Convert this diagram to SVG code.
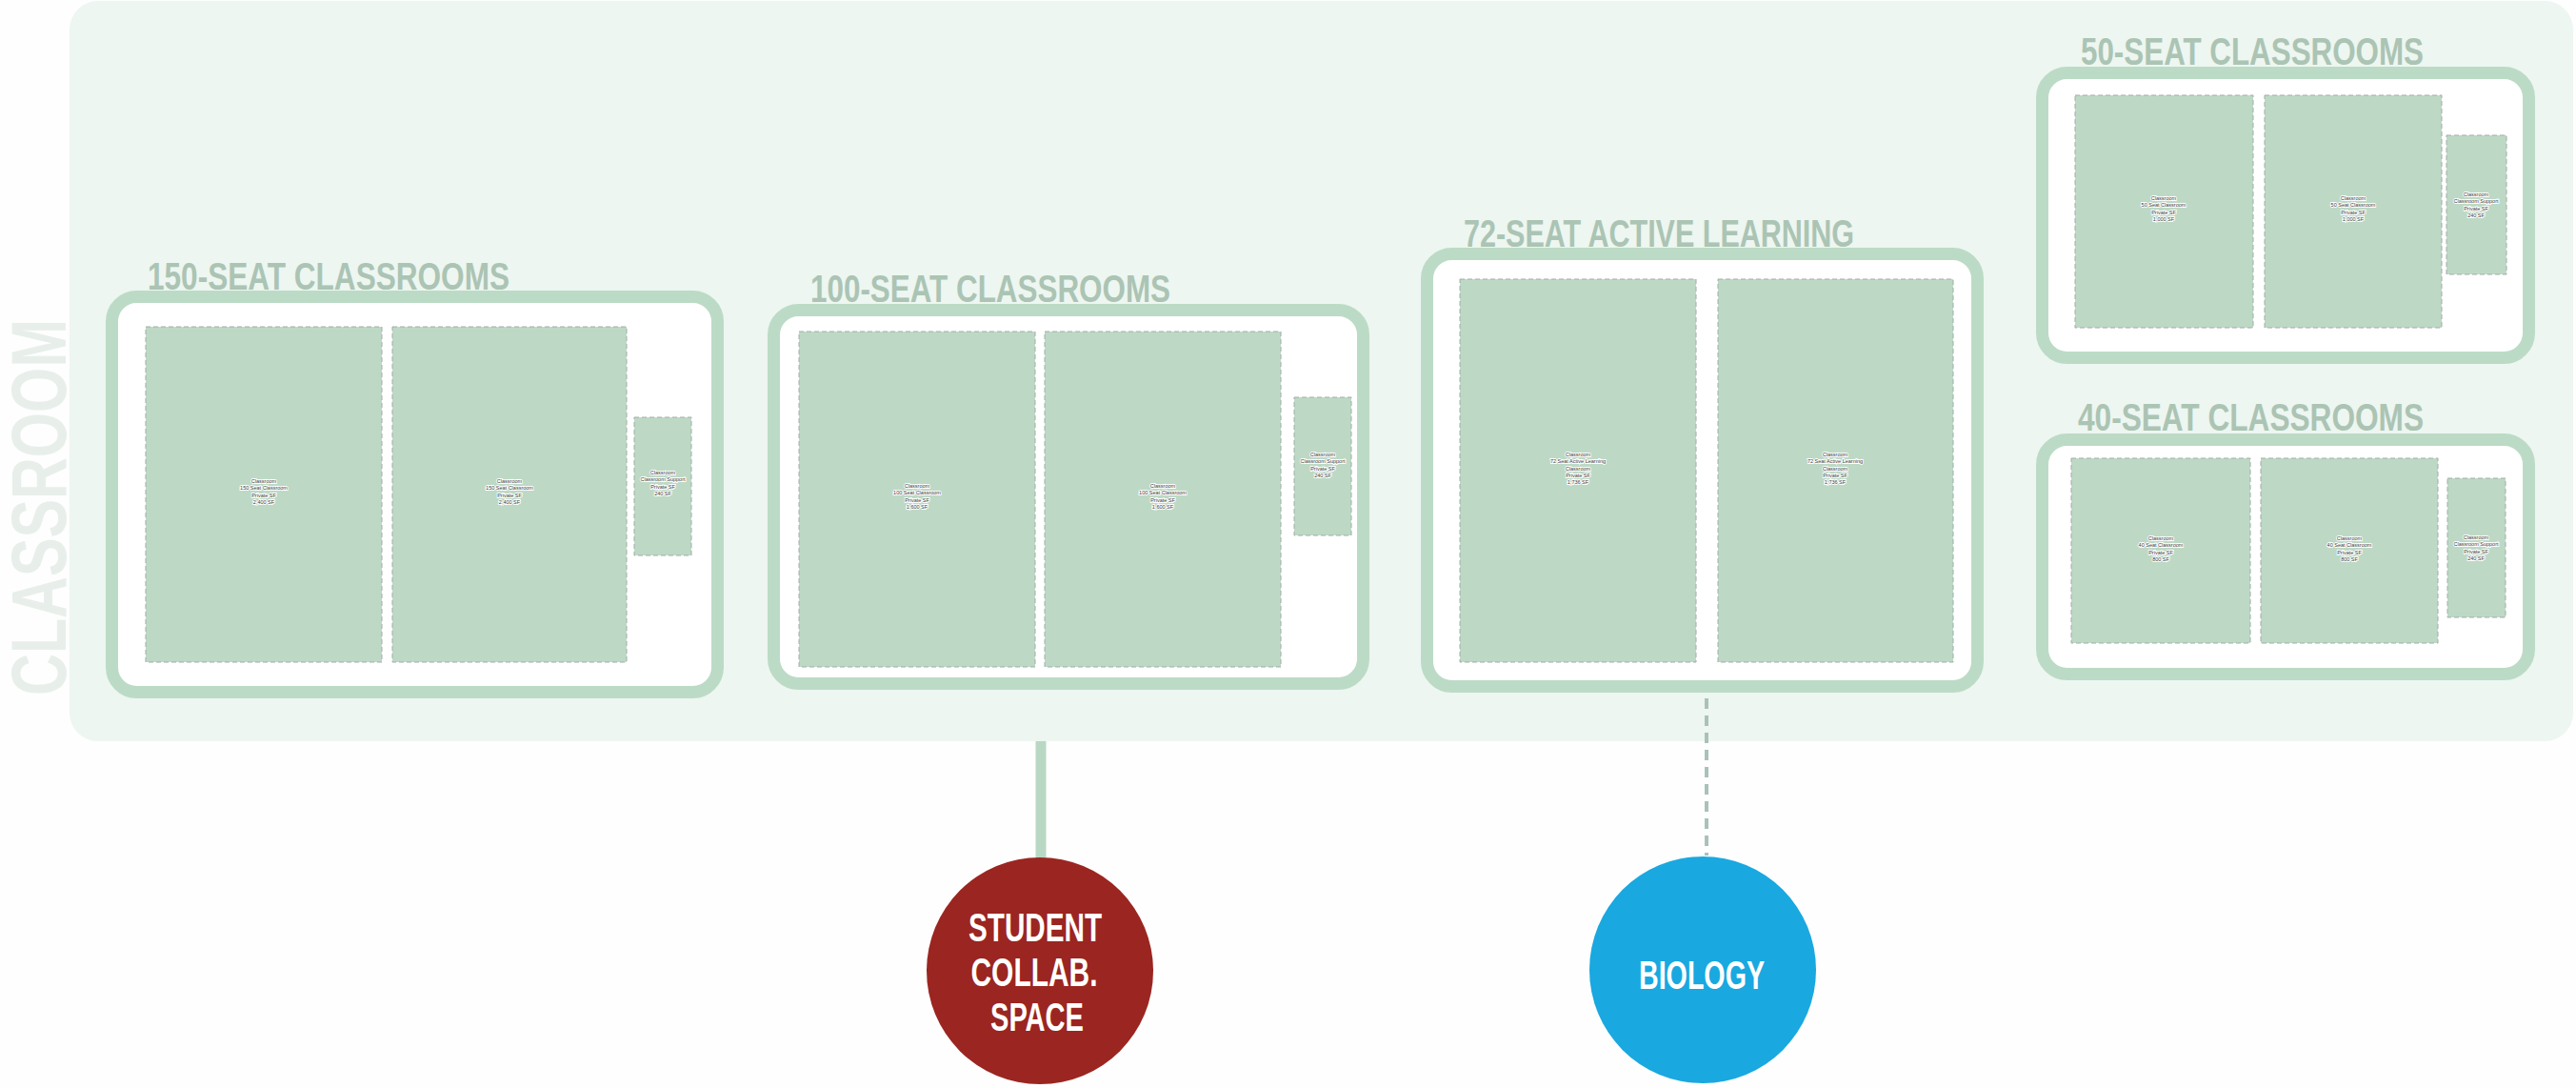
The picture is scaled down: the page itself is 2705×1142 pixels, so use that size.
<svg xmlns="http://www.w3.org/2000/svg" width="2705" height="1142" viewBox="0 0 2705 1142">
<style>
.bg{fill:#fdfefd}
.panel{fill:#edf6f0}
.box{fill:#ffffff;stroke:#bcdbc6;stroke-width:13}
.room{fill:#bdd9c5;stroke:#a3aca7;stroke-width:1;stroke-dasharray:5 3}
.title{font-family:"Liberation Sans",Arial,sans-serif;font-weight:700;font-size:41px;fill:#abc4b4}
.side{font-family:"Liberation Sans",Arial,sans-serif;font-weight:700;font-size:82px;fill:#e8efea}
.lbl{font-family:"Liberation Sans",Arial,sans-serif;font-size:5.5px;fill:#3a3a3a;text-anchor:middle;stroke:#ffffff;stroke-width:1.8px;paint-order:stroke}
.ctext{font-family:"Liberation Sans",Arial,sans-serif;font-weight:700;font-size:42px;fill:#ffffff;text-anchor:middle}
.solid{stroke:#b9d8c4;stroke-width:11;fill:none}
.dash{stroke:#a9c2b8;stroke-width:4;stroke-dasharray:11 7;fill:none}
</style>
<rect class="bg" x="0" y="0" width="2705" height="1142"/>
<g id="classroom-panel">
<rect class="panel" x="73" y="1" width="2629" height="777" rx="30"/>
<text class="side" transform="translate(69,730) rotate(-90)" textLength="395" lengthAdjust="spacingAndGlyphs">CLASSROOM</text>
</g>
<g id="connectors">
<line class="solid" x1="1093" y1="778" x2="1093" y2="902"/>
<line class="dash" x1="1792" y1="733" x2="1792" y2="898"/>
</g>
<g id="seat150">
<rect class="box" x="117.5" y="311.5" width="636" height="415" rx="26"/>
<text class="title" x="155" y="304" textLength="380" lengthAdjust="spacingAndGlyphs">150-SEAT CLASSROOMS</text>
<rect class="room" x="153" y="343" width="248" height="352"/>
<rect class="room" x="412" y="343" width="246" height="352"/>
<rect class="room" x="666" y="438" width="60" height="145"/>
<text class="lbl" y="507"><tspan x="277">Classroom</tspan><tspan x="277" dy="7.3">150 Seat Classroom</tspan><tspan x="277" dy="7.3">Private SF</tspan><tspan x="277" dy="7.3">2,400 SF</tspan></text>
<text class="lbl" y="507"><tspan x="535">Classroom</tspan><tspan x="535" dy="7.3">150 Seat Classroom</tspan><tspan x="535" dy="7.3">Private SF</tspan><tspan x="535" dy="7.3">2,400 SF</tspan></text>
<text class="lbl" y="498"><tspan x="696">Classroom</tspan><tspan x="696" dy="7.3">Classroom Support</tspan><tspan x="696" dy="7.3">Private SF</tspan><tspan x="696" dy="7.3">240 SF</tspan></text>
</g>
<g id="seat100">
<rect class="box" x="812.5" y="325.5" width="619" height="392" rx="26"/>
<text class="title" x="851" y="317" textLength="378" lengthAdjust="spacingAndGlyphs">100-SEAT CLASSROOMS</text>
<rect class="room" x="839" y="348" width="248" height="352"/>
<rect class="room" x="1097" y="348" width="248" height="352"/>
<rect class="room" x="1359" y="417" width="60" height="145"/>
<text class="lbl" y="512"><tspan x="963">Classroom</tspan><tspan x="963" dy="7.3">100 Seat Classroom</tspan><tspan x="963" dy="7.3">Private SF</tspan><tspan x="963" dy="7.3">1,600 SF</tspan></text>
<text class="lbl" y="512"><tspan x="1221">Classroom</tspan><tspan x="1221" dy="7.3">100 Seat Classroom</tspan><tspan x="1221" dy="7.3">Private SF</tspan><tspan x="1221" dy="7.3">1,600 SF</tspan></text>
<text class="lbl" y="479"><tspan x="1389">Classroom</tspan><tspan x="1389" dy="7.3">Classroom Support</tspan><tspan x="1389" dy="7.3">Private SF</tspan><tspan x="1389" dy="7.3">240 SF</tspan></text>
</g>
<g id="seat72">
<rect class="box" x="1498.5" y="266.5" width="578" height="454" rx="26"/>
<text class="title" x="1537" y="259" textLength="410" lengthAdjust="spacingAndGlyphs">72-SEAT ACTIVE LEARNING</text>
<rect class="room" x="1533" y="293" width="248" height="402"/>
<rect class="room" x="1804" y="293" width="247" height="402"/>
<text class="lbl" y="479"><tspan x="1657">Classroom</tspan><tspan x="1657" dy="7.3">72 Seat Active Learning</tspan><tspan x="1657" dy="7.3">Classroom</tspan><tspan x="1657" dy="7.3">Private SF</tspan><tspan x="1657" dy="7.3">1,736 SF</tspan></text>
<text class="lbl" y="479"><tspan x="1927">Classroom</tspan><tspan x="1927" dy="7.3">72 Seat Active Learning</tspan><tspan x="1927" dy="7.3">Classroom</tspan><tspan x="1927" dy="7.3">Private SF</tspan><tspan x="1927" dy="7.3">1,736 SF</tspan></text>
</g>
<g id="seat50">
<rect class="box" x="2144.5" y="76.5" width="511" height="299" rx="26"/>
<text class="title" x="2185" y="68" textLength="360" lengthAdjust="spacingAndGlyphs">50-SEAT CLASSROOMS</text>
<rect class="room" x="2179" y="100" width="187" height="244"/>
<rect class="room" x="2378" y="100" width="186" height="244"/>
<rect class="room" x="2569" y="142" width="63" height="146"/>
<text class="lbl" y="210"><tspan x="2272">Classroom</tspan><tspan x="2272" dy="7.3">50 Seat Classroom</tspan><tspan x="2272" dy="7.3">Private SF</tspan><tspan x="2272" dy="7.3">1,000 SF</tspan></text>
<text class="lbl" y="210"><tspan x="2471">Classroom</tspan><tspan x="2471" dy="7.3">50 Seat Classroom</tspan><tspan x="2471" dy="7.3">Private SF</tspan><tspan x="2471" dy="7.3">1,000 SF</tspan></text>
<text class="lbl" y="206"><tspan x="2600">Classroom</tspan><tspan x="2600" dy="7.3">Classroom Support</tspan><tspan x="2600" dy="7.3">Private SF</tspan><tspan x="2600" dy="7.3">240 SF</tspan></text>
</g>
<g id="seat40">
<rect class="box" x="2144.5" y="461.5" width="511" height="246" rx="26"/>
<text class="title" x="2182" y="452" textLength="363" lengthAdjust="spacingAndGlyphs">40-SEAT CLASSROOMS</text>
<rect class="room" x="2175" y="481" width="188" height="194"/>
<rect class="room" x="2374" y="481" width="186" height="194"/>
<rect class="room" x="2570" y="502" width="61" height="146"/>
<text class="lbl" y="567"><tspan x="2269">Classroom</tspan><tspan x="2269" dy="7.3">40 Seat Classroom</tspan><tspan x="2269" dy="7.3">Private SF</tspan><tspan x="2269" dy="7.3">800 SF</tspan></text>
<text class="lbl" y="567"><tspan x="2467">Classroom</tspan><tspan x="2467" dy="7.3">40 Seat Classroom</tspan><tspan x="2467" dy="7.3">Private SF</tspan><tspan x="2467" dy="7.3">800 SF</tspan></text>
<text class="lbl" y="566"><tspan x="2600">Classroom</tspan><tspan x="2600" dy="7.3">Classroom Support</tspan><tspan x="2600" dy="7.3">Private SF</tspan><tspan x="2600" dy="7.3">240 SF</tspan></text>
</g>
<g id="student-collab">
<circle cx="1092" cy="1019" r="119" fill="#9b2520"/>
<text class="ctext" x="1087" y="988" textLength="140" lengthAdjust="spacingAndGlyphs">STUDENT</text>
<text class="ctext" x="1086" y="1035" textLength="133" lengthAdjust="spacingAndGlyphs">COLLAB.</text>
<text class="ctext" x="1089" y="1082" textLength="98" lengthAdjust="spacingAndGlyphs">SPACE</text>
</g>
<g id="biology">
<circle cx="1788" cy="1018" r="119" fill="#19a8e0"/>
<text class="ctext" x="1787" y="1038" textLength="132" lengthAdjust="spacingAndGlyphs">BIOLOGY</text>
</g>
</svg>
